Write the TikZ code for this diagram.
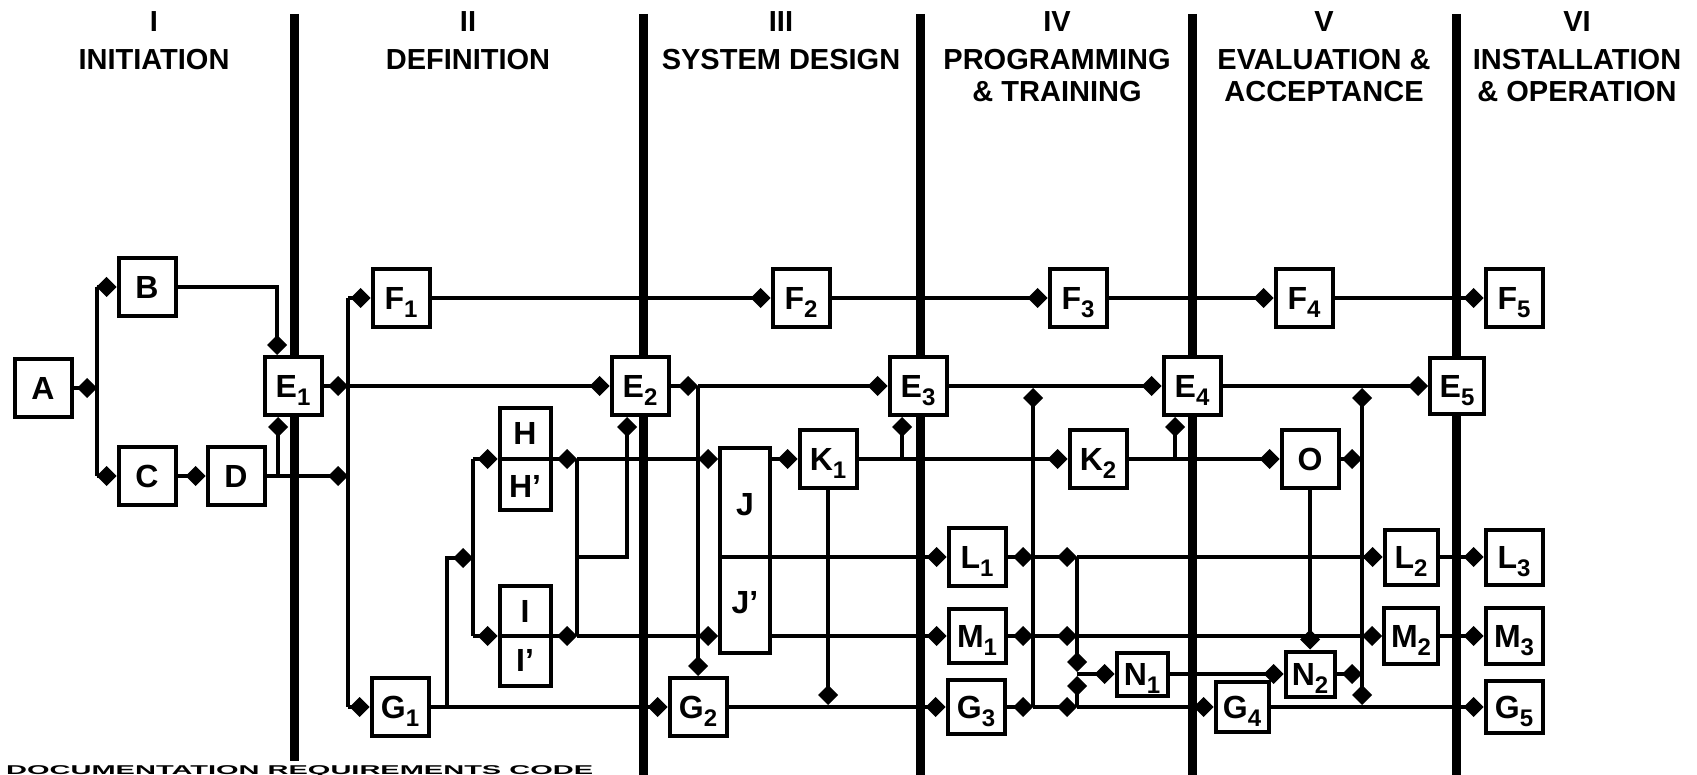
\documentclass[tikz,border=0pt]{standalone}
\usepackage{fontspec}
\setmainfont{Liberation Sans}
\usetikzlibrary{arrows.meta,calc}
\newcommand\lblfont{\fontsize{32}{32}\selectfont\bfseries}
\newcommand\ttlfont{\fontsize{29}{31}\selectfont\bfseries}
\newcommand\subx[1]{\raisebox{-8pt}[0pt][0pt]{\fontsize{24}{24}\selectfont #1}}
\tikzset{
  box/.style={draw, line width=4pt, fill=white, inner sep=0pt, minimum width=57pt, minimum height=58pt, font=\lblfont},
  lbl/.style={inner sep=0pt, font=\lblfont},
  ln/.style={line width=4pt},
  arr/.style={line width=4pt, -{Diamond[length=20pt,width=20pt]}},
  biarr/.style={line width=4pt, {Diamond[length=20pt,width=20pt]}-{Diamond[length=20pt,width=20pt]}},
  phasebar/.style={line width=9pt},
  title/.style={inner sep=0pt, font=\ttlfont},
}
\begin{document}
\begin{tikzpicture}[x=1pt,y=-1pt]
\useasboundingbox (0,0) rectangle (1697,775);
\fill[white] (0,0) rectangle (1697,775);
% phase bars
\draw[phasebar] (294,14) -- (294,761);
\draw[phasebar] (643,14) -- (643,775);
\draw[phasebar] (920,14) -- (920,775);
\draw[phasebar] (1192,14) -- (1192,775);
\draw[phasebar] (1456,14) -- (1456,775);
% titles
\node[title] (t1n) at (154,22) {I};
\node[title] (t1a) at (154,60) {INITIATION};
\node[title] (t2n) at (468,22) {II};
\node[title] (t2a) at (468,60) {DEFINITION};
\node[title] (t3n) at (781,22) {III};
\node[title] (t3a) at (781,60) {SYSTEM DESIGN};
\node[title] (t4n) at (1057,22) {IV};
\node[title] (t4a) at (1057,60) {PROGRAMMING};
\node[title] (t4b) at (1057,92) {\&~TRAINING};
\node[title] (t5n) at (1324,22) {V};
\node[title] (t5a) at (1324,60) {EVALUATION \&};
\node[title] (t5b) at (1324,92) {ACCEPTANCE};
\node[title] (t6n) at (1577,22) {VI};
\node[title] (t6a) at (1577,60) {INSTALLATION};
\node[title] (t6b) at (1577,92) {\&~OPERATION};
\node[title, anchor=north west] (code) at (6,765) {\scalebox{1}[0.44]{DOCUMENTATION REQUIREMENTS CODE}};
% boxes
\node[box] (A) at (43,388) {A};
\node[box] (B) at (147,287) {B};
\node[box] (C) at (147,476) {C};
\node[box] (D) at (236,476) {D};
\node[box] (E1) at (293,386) {E\subx{1}};
\node[box] (F1) at (401,298) {F\subx{1}};
\node[box] (G1) at (400,707) {G\subx{1}};
\node[box, minimum width=51pt, minimum height=102pt] (H) at (525,459) {};
\node[lbl] (Hu) at (525,433) {H};
\node[lbl] (Hl) at (525,486) {H’};
\node[box, minimum width=51pt, minimum height=100pt] (I) at (525,636) {};
\node[lbl] (Iu) at (525,611) {I};
\node[lbl] (Il) at (525,660) {I’};
\node[box] (E2) at (640,386) {E\subx{2}};
\node[box] (F2) at (801,298) {F\subx{2}};
\node[box] (G2) at (698,707) {G\subx{2}};
\node[box, minimum width=50pt, minimum height=205pt] (J) at (745,550) {};
\node[lbl] (Ju) at (745,505) {J};
\node[lbl] (Jl) at (745,603) {J’};
\node[box] (K1) at (828,459) {K\subx{1}};
\node[box] (E3) at (918,386) {E\subx{3}};
\node[box] (F3) at (1078,298) {F\subx{3}};
\node[box] (L1) at (977,557) {L\subx{1}};
\node[box, minimum height=54pt] (M1) at (977,636) {M\subx{1}};
\node[box, minimum height=54pt] (G3) at (976,707) {G\subx{3}};
\node[box] (K2) at (1098,459) {K\subx{2}};
\node[box] (E4) at (1192,386) {E\subx{4}};
\node[box, minimum width=51pt, minimum height=43pt] (N1) at (1142,674) {N\subx{1}};
\node[box] (F4) at (1304,298) {F\subx{4}};
\node[box] (O) at (1310,459) {O};
\node[box, minimum width=53pt, minimum height=50pt] (G4) at (1242,707) {G\subx{4}};
\node[box, minimum width=49pt, minimum height=45pt] (N2) at (1310,674) {N\subx{2}};
\node[box, minimum width=54pt, minimum height=56pt] (E5) at (1457,386) {E\subx{5}};
\node[box] (F5) at (1514,298) {F\subx{5}};
\node[box, minimum width=53pt, minimum height=55pt] (L2) at (1411,557) {L\subx{2}};
\node[box, minimum height=55pt] (L3) at (1514,557) {L\subx{3}};
\node[box, minimum width=54pt, minimum height=56pt] (M2) at (1411,636) {M\subx{2}};
\node[box, minimum height=56pt] (M3) at (1514,636) {M\subx{3}};
\node[box, minimum height=52pt] (G5) at (1514,707) {G\subx{5}};
% bus coordinates
\coordinate (b1t) at (97,287);
\coordinate (b1b) at (97,476);
\coordinate (dj) at (278,476);
\coordinate (b2t) at (348,298);
\coordinate (b2b) at (348,707);
\coordinate (g1j) at (447,707);
\coordinate (b3m) at (473,558);
\coordinate (b3t) at (473,459);
\coordinate (b3b) at (473,636);
\coordinate (b4t) at (577,459);
\coordinate (b4m) at (577,557);
\coordinate (b4b) at (577,636);
\coordinate (b5) at (698,386);
\coordinate (k1j) at (902,459);
\coordinate (b6e) at (1033,388);
\coordinate (b6g) at (1033,707);
\coordinate (b7l) at (1077,557);
\coordinate (b7m) at (1077,636);
\coordinate (b7n) at (1077,674);
\coordinate (b7g) at (1077,707);
\coordinate (k2j) at (1175,459);
\coordinate (b8e) at (1362,388);
\coordinate (b8g) at (1362,705);
% phase I
\draw[arr] (A.east) -- (A.east -| b1t);
\draw[ln] (b1t) -- (b1b);
\draw[arr] (b1t) -- (B.west);
\draw[arr] (b1b) -- (C.west);
\draw[arr] (C.east) -- (D.west);
\draw[arr] (B.east) -| ($(E1.north)+(-16,0)$);
\draw[arr] (dj) -- (dj |- E1.south);
\draw[arr] (D.east) -- (b2t |- D.east);
% phase II
\draw[ln] (b2t) -- (b2b);
\draw[arr] (E1.east) -- (b2t |- E1.east);
\draw[arr] (b2t |- E1.east) -- (E2.west);
\draw[arr] (b2t) -- (F1.west);
\draw[arr] (b2b) -- (G1.west);
\draw[arr] (G1.east) -- (G2.west);
\draw[arr] (g1j) |- (b3m);
\draw[ln] (b3t) -- (b3b);
\draw[arr] (b3t) -- (H.west);
\draw[arr] (b3b) -- (I.west);
\draw[ln] (H.west) -- (H.east);
\draw[ln] (I.west) -- (I.east);
\draw[arr] (H.east) -- (b4t);
\draw[arr] (I.east) -- (b4b);
\draw[ln] (b4t) -- (b4b);
\draw[arr] (b4m) -| ($(E2.south)+(-13,0)$);
\draw[arr] (b4t) -- (J.west |- b4t);
\draw[arr] (b4b) -- (J.west |- b4b);
% phase III
\draw[arr] (E2.east) -- (b5);
\draw[arr] (b5) -- (E3.west);
\draw[arr] (b5) -- (G2.north);
\draw[arr] (J.west |- L1.west) -- (L1.west);
\draw[arr] (J.east |- K1.west) -- (K1.west);
\draw[arr] (J.east |- M1.west) -- (M1.west);
\draw[arr] (K1.east) -- (K2.west);
\draw[arr] (k1j) -- (k1j |- E3.south);
\draw[arr] (K1.south) -- ($(K1.south |- G2.east)+(0,-2)$);
\draw[arr] (G2.east) -- (G3.west);
% phase IV
\draw[arr] (E3.east) -- (E4.west);
\draw[arr] (L1.east) -- (b6e |- L1.east);
\draw[arr] (M1.east) -- (b6e |- M1.east);
\draw[arr] (G3.east) -- (b6g);
\draw[arr] (b6g) -- (b6e);
\draw[arr] (b6e |- L1.east) -- (b7l);
\draw[arr] (b6e |- M1.east) -- (b7m);
\draw[arr] (b6g) -- (b7g);
\draw[arr] (b7l) -- ($(b7n)+(0,-2)$);
\draw[arr] (b7g) -- ($(b7n)+(0,2)$);
\draw[arr] (b7n) -- (N1.west);
\draw[arr] (b7l) -- (L2.west);
\draw[arr] (b7m) -- (M2.west);
\draw[arr] (b7g) -- (G4.west);
\draw[arr] (K2.east) -- (O.west);
\draw[arr] (k2j) -- (k2j |- E4.south);
% phase V
\draw[arr] (E4.east) -- (E5.west);
\draw[arr] (N1.east) -- (N2.west);
\draw[arr] (O.south) -- (N2.north);
\draw[arr] (O.east) -- (b8e |- O.east);
\draw[arr] (N2.east) -- (b8e |- N2.east);
\draw[biarr] (b8e) -- (b8g);
\draw[arr] (G4.east) -- (G5.west);
\draw[arr] (L2.east) -- (L3.west);
\draw[arr] (M2.east) -- (M3.west);
% F line
\draw[arr] (F1.east) -- (F2.west);
\draw[arr] (F2.east) -- (F3.west);
\draw[arr] (F3.east) -- (F4.west);
\draw[arr] (F4.east) -- (F5.west);
\end{tikzpicture}
\end{document}
